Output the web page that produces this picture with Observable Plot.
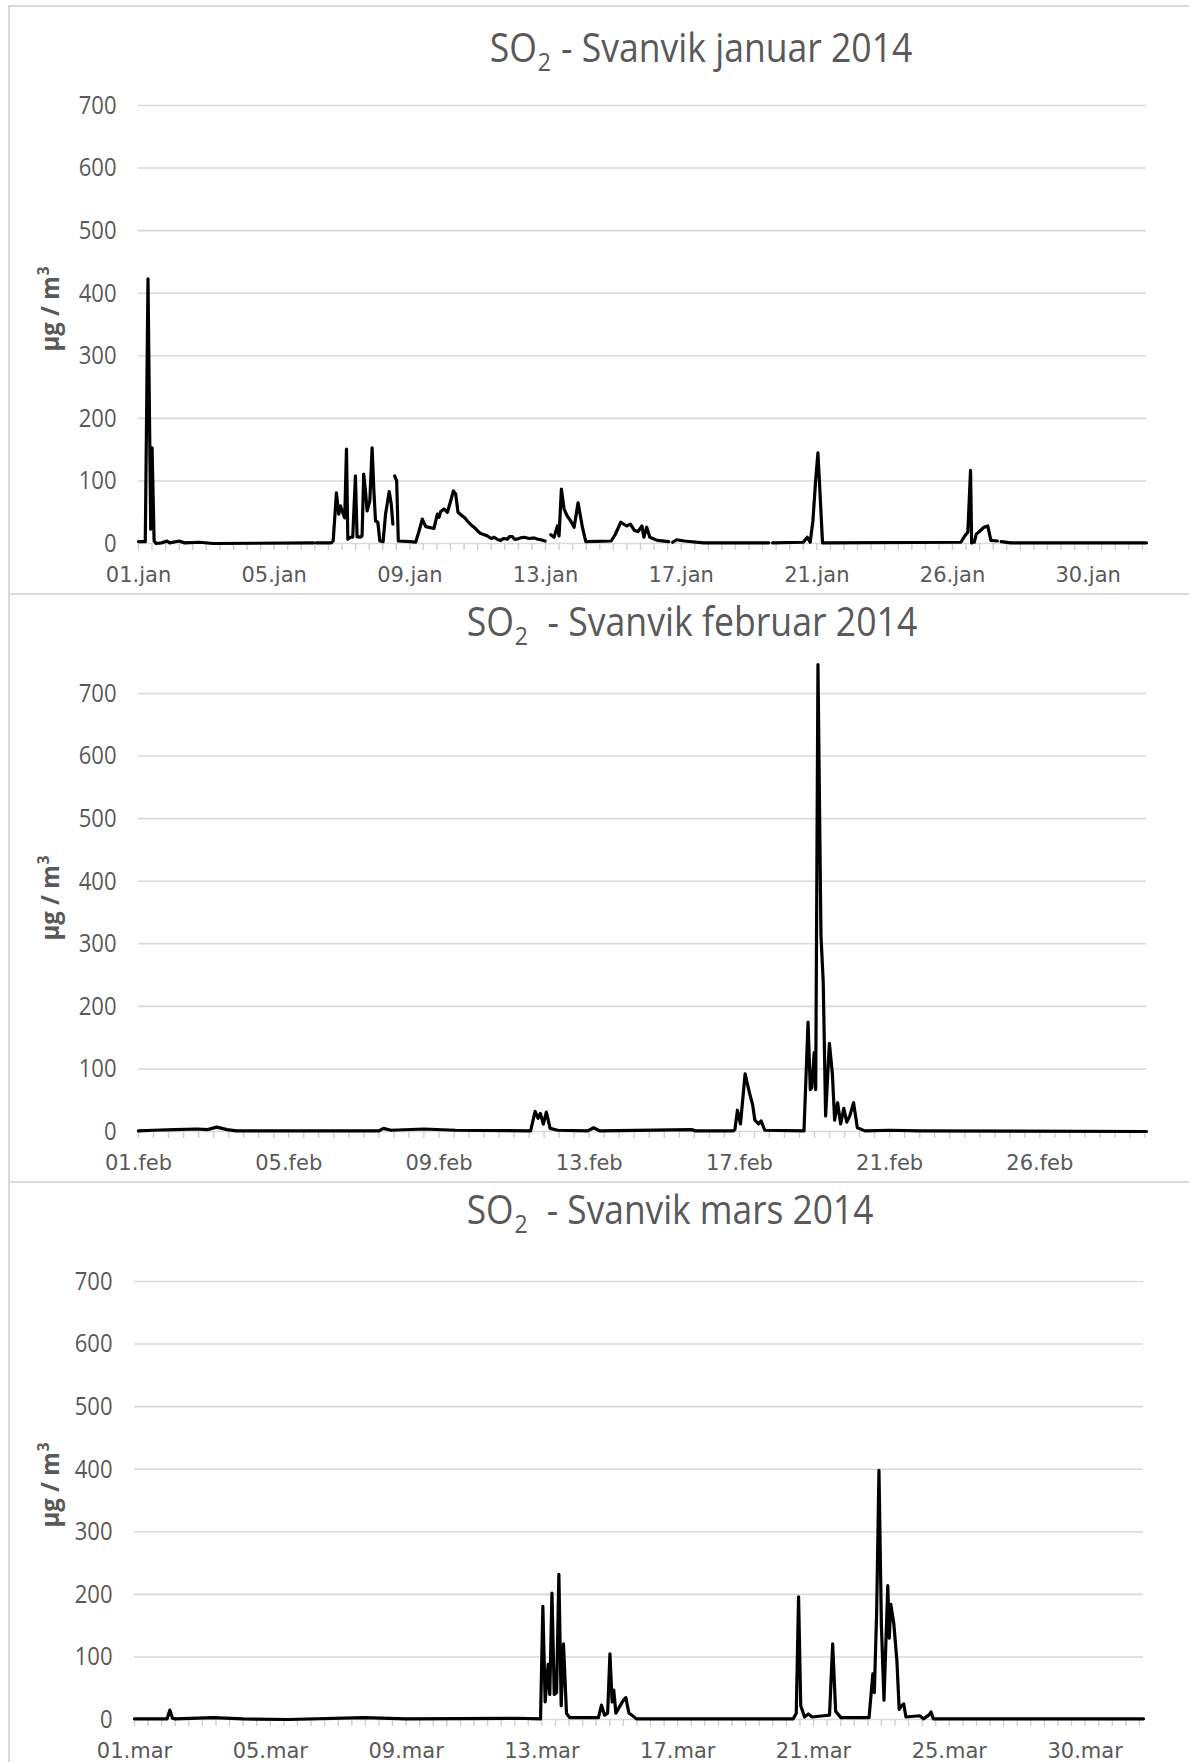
<!DOCTYPE html>
<html><head><meta charset="utf-8">
<script src="https://cdn.jsdelivr.net/npm/d3@7"></script>
<script src="https://cdn.jsdelivr.net/npm/@observablehq/plot@0.6"></script>
<style>
html,body{margin:0;padding:0;background:#fff;}
#page{position:relative;width:1189px;height:1762px;overflow:hidden;background:#fff;}
.frame{position:absolute;border:2px solid #d9d9d9;box-sizing:border-box;}
.plotwrap{position:absolute;left:0;}
#overlay{position:absolute;left:0;top:0;pointer-events:none;}
</style></head><body><div id="page"></div>
<script>
// ---- Data (hour index within the month, SO2 µg/m³; null = gap in record) ----
const janLabels = ["01.jan","05.jan","09.jan","13.jan","17.jan","21.jan","26.jan","30.jan"];
const janHour = [0,5,7,9,10,11.5,13,17,21,23,30,34,45,55,129,130,131,142,143.5,145.9,147.6,148.9,150.9,152,153.3,154.3,156.2,157.9,159.9,161.1,163.1,164.8,166,167.3,168.5,170.5,172.2,173.5,174.7,176.4,177.9,180.3,182.1,184.8,186.3,187.5,188.2,188.8,190.3,191.5,200.6,204.3,206.8,209.2,211.7,217.8,219.1,220.3,221.5,222.8,225.2,227.7,230.1,232.1,233.8,235.5,238.7,240.5,242.4,245,247.3,250,252.2,255,257.2,260,262.1,265,267,269,271.9,273.5,275.6,277,279.3,281.5,284.2,288,291.6,294,296.5,299.7,301.8,303.9,306.3,308.8,310,311.7,313.7,316,318.6,321.1,324,327.2,329.7,348.4,351.3,355.5,359.8,362.6,365.5,368.2,371.1,372.5,374.6,376.9,382.4,390.9,392.3,393.8,396.6,402.3,416.4,464.6,466,467.4,490,492.9,495.1,497.1,499.1,500.8,501.9,504.2,606.2,609,611.3,613.3,614.1,615,616.1,617.5,620.3,623.2,626,628.3,633.1,634.5,635.9,643,743];
const janSO2 = [3,3,423,23,153,4,0,1,4,1,4,1,2,0,1,null,1,1,4,81,47,60,47,41,151,7,10,10,108,11,10,12,111,84,52,68,153,84,36,34,4,3,47,83,63,31,null,108,100,4,3,2,20,39,27,24,36,47,42,51,55,50,68,84,79,50,44,41,36,30,26,20,16,14,12,8,10,6,5,8,7,11,11,7,7,9,10,8,9,7,6,4,null,14,10,28,12,87,55,44,36,26,65,26,3,4,14,34,28,31,21,19,28,10,26,10,5,3,null,2,6,4,1,1,null,1,2,10,2,36,100,145,100,1,2,12,18,117,1,null,2,15,20,26,28,5,4,null,3,1,1];

const febLabels = ["01.feb","05.feb","09.feb","13.feb","17.feb","21.feb","26.feb"];
const febHour = [0,10,24,39,46,52,59,65,160,163,168,190,211,261,264,266,267.5,269.5,271.5,274,279,299,303,307,368,371,396,397,398.7,400.7,403.8,406.8,408.8,410.3,412.8,414.4,416.9,443,445.7,447.2,448.2,449.8,450.8,452.3,454.3,455.8,457.4,459.9,461.9,463.4,465.4,467.4,469.5,471.5,473.5,476,478.5,483.6,500,520,671];
const febSO2 = [1,2,3,4,3,7,3,1,1,5,2,4,2,1,32,21,29,12,31,5,2,1,6,1,3,1,1,3,34,12,92,61,43,18,12,17,2,1,175,67,70,126,67,746,313,239,25,141,92,18,46,12,37,15,25,46,6,1,2,1,0];

const marLabels = ["01.mar","05.mar","09.mar","13.mar","17.mar","21.mar","25.mar","30.mar"];
const marHour = [0,24,26,28,30,58,80,113,169,200,281,299,300.7,302.4,304.6,305.8,307.4,309.1,310.8,312.5,314.2,315.9,318.1,320.4,341.6,343.9,346.1,348.4,350.1,351.7,352.9,354.5,356.8,359.5,361.8,364.1,366.3,369.6,485,487.3,489,490.6,493.4,496.2,499,507.4,511.8,514.1,516.3,520.2,540.9,543.7,544.8,546.5,548.2,550,551.9,554.7,555.8,556.9,559.1,561.4,563.1,564.8,566.4,568.1,578.2,581,584.9,586.6,588.2,743];
const marSO2 = [1,1,15,2,1,3,1,0,3,1,2,1,181,28,88,40,202,40,43,232,22,121,10,3,3,23,7,10,105,28,47,10,19,29,35,10,7,1,1,10,196,22,4,9,4,6,7,121,13,3,3,73,43,172,398,150,31,214,130,184,154,94,16,22,25,4,6,1,7,12,1,1];

const yTicks = [0,100,200,300,400,500,600,700];

// ---- Panels ----
const page = document.getElementById("page");
const panels = [
  {hour: janHour, so2: janSO2, labels: janLabels, n: 744, top: 70,  height: 523, left: 138, right: 1146,
   frameTop: 5, frameH: 590, title: " - Svanvik januar 2014", tw: 421, tx: 701, ty: 62, ly: 309},
  {hour: febHour, so2: febSO2, labels: febLabels, n: 672, top: 658, height: 523, left: 138, right: 1146,
   frameTop: 593, frameH: 590, title: "  - Svanvik februar 2014", tw: 449, tx: 692, ty: 636, ly: 898},
  {hour: marHour, so2: marSO2, labels: marLabels, n: 744, top: 1246, height: 524, left: 134, right: 1143,
   frameTop: 1181, frameH: 700, title: "  - Svanvik mars 2014", tw: 405, tx: 670, ty: 1224, ly: 1485}
];

const humanist = "'Open Sans','Noto Sans',sans-serif";

for (const p of panels) {
  const frame = document.createElement("div");
  frame.className = "frame";
  frame.style.left = "8px";
  frame.style.top = p.frameTop + "px";
  frame.style.width = "1200px";
  frame.style.height = p.frameH + "px";
  page.appendChild(frame);

  const rows = p.hour.map((h, k) => ({h, v: p.so2[k]}));
  const labelPos = p.labels.map((_, k) => k * 100);
  const minor = d3.range(0, p.n, 10);

  const chart = Plot.plot({
    width: 1189,
    height: p.height,
    marginTop: 35,
    marginBottom: p.height - 35 - 438,
    marginLeft: p.left,
    marginRight: 1189 - p.right,
    x: {type: "linear", domain: [0, p.n - 1]},
    y: {domain: [0, 700]},
    style: {background: "transparent", overflow: "visible", fontFamily: "'DejaVu Sans',sans-serif", color: "#595959"},
    marks: [
      Plot.ruleY(yTicks, {stroke: "#d9d9d9", strokeWidth: 1.6}),
      Plot.axisX({ticks: minor, tickSize: 7, tickFormat: () => "", stroke: "#cfcfcf", strokeWidth: 1.4, label: null}),
      Plot.axisX({ticks: labelPos, tickSize: 0, tickPadding: 24, tickFormat: d => p.labels[Math.round(d / 100)], fontSize: 21, label: null}),
      Plot.axisY({ticks: yTicks, tickSize: 0, tickPadding: 22, fontSize: 26, fontFamily: humanist, label: null}),
      Plot.line(rows, {x: "h", y: "v", stroke: "#000", strokeWidth: 3.2, strokeLinejoin: "round", strokeLinecap: "round"})
    ]
  });
  // narrow the y tick labels like the condensed face of the original
  d3.select(chart).selectAll('g[aria-label="y-axis tick label"] text').each(function() {
    const s = this.textContent.trim();
    this.setAttribute("textLength", s.length * 12.6);
    this.setAttribute("lengthAdjust", "spacingAndGlyphs");
  });
  const wrap = document.createElement("div");
  wrap.className = "plotwrap";
  wrap.style.top = p.top + "px";
  wrap.appendChild(chart);
  page.appendChild(wrap);
}

// ---- Titles and y-axis labels ----
const svg = d3.select(page).append("svg").attr("id", "overlay").attr("width", 1189).attr("height", 1762);
for (const p of panels) {
  const t = svg.append("text")
    .attr("x", 0).attr("y", 0)
    .attr("text-anchor", "middle")
    .attr("fill", "#595959")
    .style("font-family", humanist)
    .style("font-size", "40px")
    .style("white-space", "pre");
  t.append("tspan").text("SO");
  t.append("tspan").attr("dx", 1).attr("dy", 9).style("font-size", "26px").text("2");
  t.append("tspan").attr("dx", 1).attr("dy", -9).text(p.title);
  const w = t.node().getComputedTextLength() || p.tw;
  t.attr("transform", `translate(${p.tx},${p.ty}) scale(${p.tw / w},1)`);

  const l = svg.append("text")
    .attr("x", 0).attr("y", 0)
    .attr("text-anchor", "middle")
    .attr("fill", "#595959")
    .style("font-family", humanist)
    .style("font-weight", "bold")
    .style("font-size", "25px")
    .style("white-space", "pre");
  l.append("tspan").text("µg / m");
  l.append("tspan").attr("dx", 1).attr("dy", -10).style("font-size", "16px").text("3");
  const lw = l.node().getComputedTextLength() || 84;
  l.attr("transform", `translate(59,${p.ly}) rotate(-90) scale(${84 / lw},1)`);
}
</script>
</body></html>
